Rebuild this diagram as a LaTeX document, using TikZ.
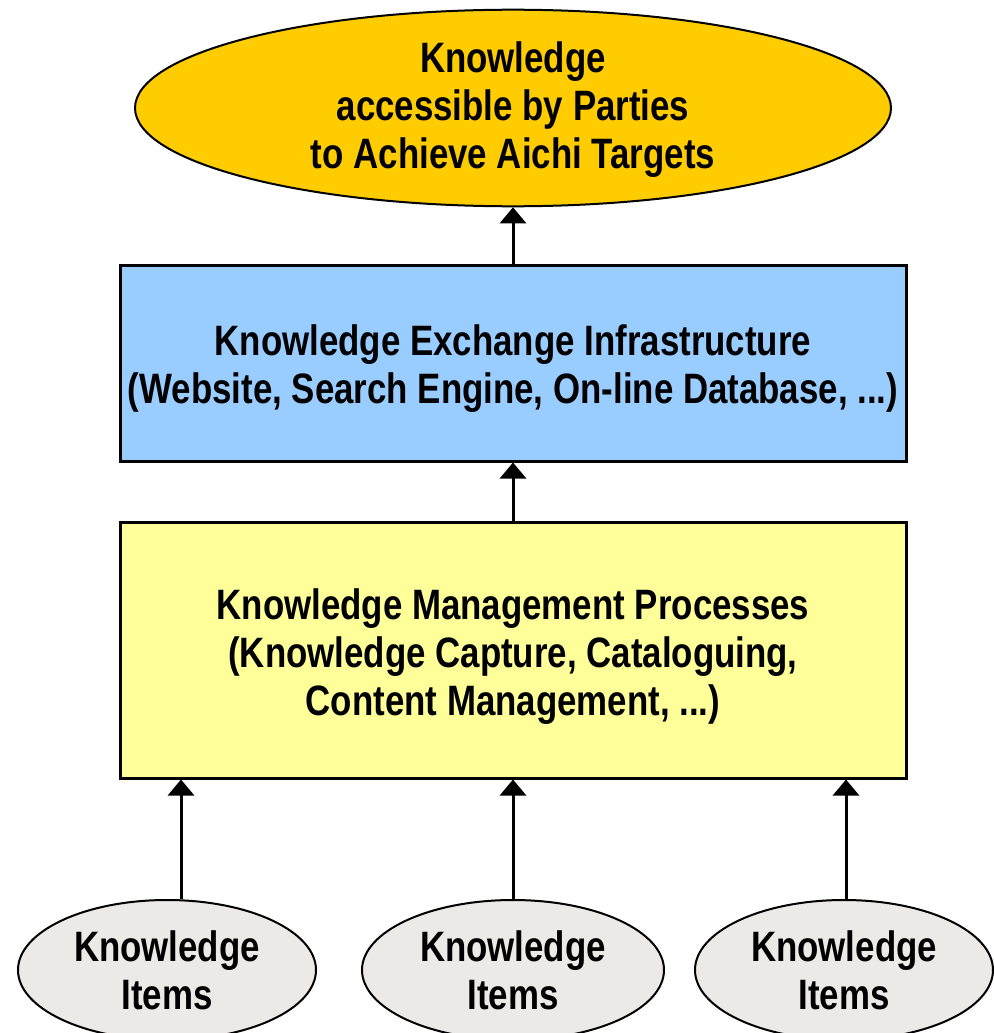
\documentclass[tikz,border=0pt]{standalone}
\usepackage{fontspec}
\setmainfont[FakeStretch=0.82]{Liberation Sans}
\usetikzlibrary{shapes.geometric,arrows.meta}
\definecolor{gold}{HTML}{FFCC00}
\definecolor{skyb}{HTML}{99CCFF}
\definecolor{paley}{HTML}{FFFF99}
\definecolor{itemg}{HTML}{ECEAE6}
\begin{document}
\begin{tikzpicture}[x=1pt,y=1pt,
  txt/.style={font=\bfseries\fontsize{42.5}{48}\selectfont, align=center, text=black, inner sep=0pt},
  ell/.style={txt, ellipse, draw=black, line width=2pt},
  boxn/.style={txt, rectangle, draw=black, line width=3pt},
  arr/.style={line width=3pt, -{Triangle[width=26pt,length=16pt]}}]
\useasboundingbox (0,0) rectangle (993,-1033);
\node[ell, fill=gold, minimum width=756, minimum height=192] (goal) at (513,-108)
  {\rule{0pt}{34pt}Knowledge\\accessible by Parties\\to Achieve Aichi Targets};
\node[boxn, fill=skyb, minimum width=786, minimum height=196] (kei) at (513,-363)
  {\rule{0pt}{41pt}Knowledge Exchange Infrastructure\\(Website, Search Engine, On-line Database, ...)};
\node[boxn, fill=paley, minimum width=786, minimum height=256] (kmp) at (513,-650)
  {\rule{0pt}{43pt}Knowledge Management Processes\\(Knowledge Capture, Cataloguing,\\Content Management, ...)};
\node[ell, fill=itemg, minimum width=298, minimum height=140] (ki1) at (167,-970) {Knowledge\\Items};
\node[ell, fill=itemg, minimum width=302, minimum height=140] (ki2) at (513,-970) {Knowledge\\Items};
\node[ell, fill=itemg, minimum width=298, minimum height=140] (ki3) at (844,-970) {Knowledge\\Items};
\draw[arr] (kei.north) -- (goal.south);
\draw[arr] (kmp.north) -- (kei.south);
\draw[arr] ([xshift=14pt]ki1.north) -- ([xshift=14pt]ki1.north |- kmp.south);
\draw[arr] (ki2.north) -- (kmp.south);
\draw[arr] ([xshift=2pt]ki3.north) -- ([xshift=2pt]ki3.north |- kmp.south);
\end{tikzpicture}
\end{document}
